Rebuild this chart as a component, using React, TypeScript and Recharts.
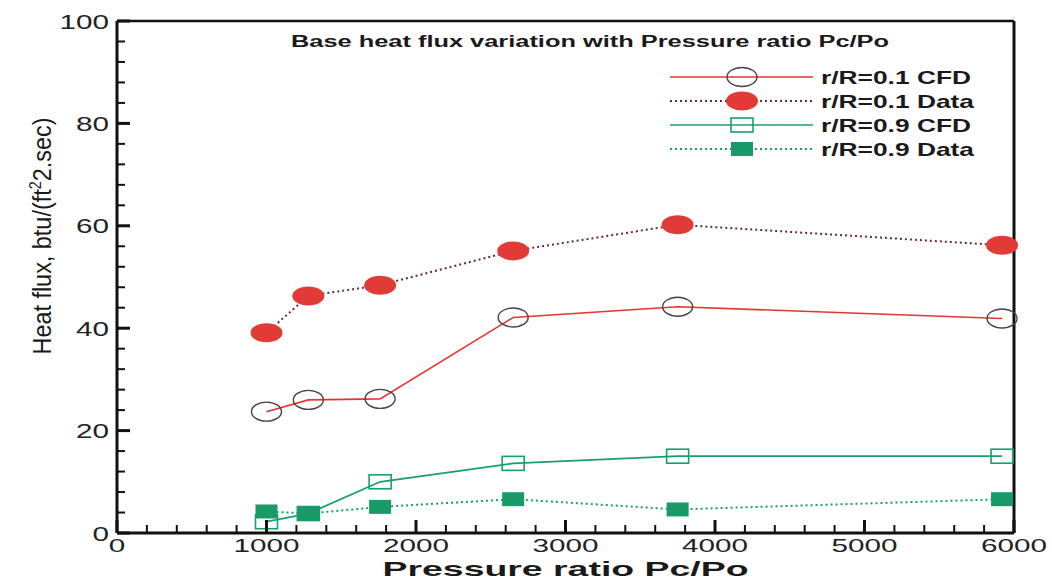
import React from 'react';
import { LineChart, Line, XAxis, YAxis, Legend, ReferenceLine, Customized } from 'recharts';

// values
const pressureRatio = [1000, 1280, 1760, 2650, 3750, 5920];
const cfd01 = [23.7, 26.0, 26.2, 42.1, 44.2, 41.9];
const data01 = [39.1, 46.3, 48.4, 55.1, 60.2, 56.2];
const cfd09 = [2.2, 3.8, 10.0, 13.6, 15.0, 15.0];
const data09 = [4.2, 3.8, 5.1, 6.6, 4.6, 6.6];

const xTicks = [0, 200, 400, 600, 800, 1000, 1200, 1400, 1600, 1800, 2000, 2200, 2400, 2600, 2800, 3000,
  3200, 3400, 3600, 3800, 4000, 4200, 4400, 4600, 4800, 5000, 5200, 5400, 5600, 5800, 6000];
const yTicks = [0, 4, 8, 12, 16, 20, 24, 28, 32, 36, 40, 44, 48, 52, 56, 60, 64, 68, 72, 76, 80, 84, 88, 92, 96, 100];

const rows = pressureRatio.map((x, i) => ({
  x,
  cfd01: cfd01[i],
  data01: data01[i],
  cfd09: cfd09[i],
  data09: data09[i],
}));

const RED = '#e4352f';
const RED_FILL = '#e23a36';
const RED_DOTS = '#6a2c2c';
const RING = '#4a4050';
const GREEN = '#17a06b';
const GREEN_FILL = '#189b68';
const AXIS = '#111';
const FONT = '"Liberation Sans", Arial, Helvetica, sans-serif';

const openCircle = (p: any) => (
  <ellipse key={`oc${p.index}`} cx={p.cx} cy={p.cy} rx={15} ry={9.5} fill="none" stroke={RING} strokeWidth={1.4} />
);
const fullCircle = (p: any) => (
  <ellipse key={`fc${p.index}`} cx={p.cx} cy={p.cy} rx={16} ry={9.5} fill={RED_FILL} stroke="none" />
);
const openSquare = (p: any) => (
  <rect key={`os${p.index}`} x={p.cx - 11} y={p.cy - 7} width={22} height={14} fill="none" stroke={GREEN} strokeWidth={1.6} />
);
const fullSquare = (p: any) => (
  <rect key={`fs${p.index}`} x={p.cx - 11} y={p.cy - 7} width={22} height={14} fill={GREEN_FILL} stroke="none" />
);

const legendItems = [
  { name: 'r/R=0.1 CFD', stroke: RED, dash: undefined, marker: 'oc' },
  { name: 'r/R=0.1 Data', stroke: RED_DOTS, dash: '2 3', marker: 'fc' },
  { name: 'r/R=0.9 CFD', stroke: GREEN, dash: undefined, marker: 'os' },
  { name: 'r/R=0.9 Data', stroke: GREEN, dash: '2 3', marker: 'fs' },
];

const markerFor = (kind: string, cx: number, cy: number) => {
  const p = { cx, cy, index: kind };
  if (kind === 'oc') return openCircle(p);
  if (kind === 'fc') return fullCircle(p);
  if (kind === 'os') return openSquare(p);
  return fullSquare(p);
};

const renderLegend = () => (
  <svg width={340} height={110} style={{ display: 'block' }}>
    {legendItems.map((it, i) => {
      const y = 17 + i * 24;
      return (
        <g key={it.name}>
          <line x1={10} x2={153} y1={y} y2={y} stroke={it.stroke} strokeWidth={it.dash ? 2 : 1.6} strokeDasharray={it.dash} />
          {markerFor(it.marker, 82, y)}
          <text x={161} y={y + 7} fontFamily={FONT} fontWeight="bold" fontSize={19} fill="#1a1a1a"
            textLength={i % 2 === 0 ? 150 : 153} lengthAdjust="spacingAndGlyphs">{it.name}</text>
        </g>
      );
    })}
  </svg>
);

const XTick = (props: any) => {
  const { x, y, payload } = props;
  const v = payload.value;
  const major = v % 1000 === 0;
  const label = String(v);
  return (
    <g>
      <line x1={x} x2={x} y1={y} y2={y - (major ? 13 : 8)} stroke={AXIS} strokeWidth={major ? 3 : 2} />
      {major && (
        <text x={x} y={y + 19} textAnchor="middle" fontFamily={FONT} fontSize={19} fill="#222"
          textLength={16.5 * label.length} lengthAdjust="spacingAndGlyphs">{label}</text>
      )}
    </g>
  );
};

const YTick = (props: any) => {
  const { x, y, payload } = props;
  const v = payload.value;
  const major = v % 20 === 0;
  const label = String(v);
  return (
    <g>
      <line x1={x} x2={x + (major ? 13 : 8)} y1={y} y2={y} stroke={AXIS} strokeWidth={major ? 3 : 2} />
      {major && (
        <text x={x - 8} y={y + 7.5} textAnchor="end" fontFamily={FONT} fontSize={21} fill="#222"
          textLength={16.5 * label.length} lengthAdjust="spacingAndGlyphs">{label}</text>
      )}
    </g>
  );
};

const XTitle = (props: any) => {
  const { x, y, width } = props.viewBox;
  return (
    <text x={x + width / 2} y={y + 43} textAnchor="middle" fontFamily={FONT} fontWeight="bold" fontSize={21}
      fill="#1a1a1a" textLength={366} lengthAdjust="spacingAndGlyphs">Pressure ratio Pc/Po</text>
  );
};

const YTitle = (props: any) => {
  const { y, height } = props.viewBox;
  const cy = y + height * 0.42;
  return (
    <text transform={`translate(51, ${cy}) rotate(-90)`} textAnchor="middle" fontFamily={FONT} fontSize={26}
      fill="#1a1a1a" textLength={237} lengthAdjust="spacingAndGlyphs">
      <tspan>Heat flux, btu/(ft</tspan>
      <tspan dy={-10} fontSize={16}>2</tspan>
      <tspan dy={10}>2.sec)</tspan>
    </text>
  );
};

const Title = () => (
  <text x={590} y={47} textAnchor="middle" fontFamily={FONT} fontWeight="bold" fontSize={16} fill="#1a1a1a"
    textLength={598} lengthAdjust="spacingAndGlyphs">Base heat flux variation with Pressure ratio Pc/Po</text>
);

export default function App() {
  return (
    <div style={{ position: 'absolute', left: 0, top: 0, width: 1052, height: 582, background: '#fff' }}>
      <LineChart width={1052} height={582} data={rows} margin={{ top: 21, right: 38, bottom: 0, left: 0 }}>
        <XAxis dataKey="x" type="number" domain={[0, 6000]} ticks={xTicks} interval={0} height={49}
          tickSize={0} tickMargin={0} tickLine={false} tick={<XTick />}
          axisLine={{ stroke: AXIS, strokeWidth: 3 }} label={<XTitle />} />
        <YAxis type="number" domain={[0, 100]} ticks={yTicks} interval={0} width={117}
          tickSize={0} tickMargin={0} tickLine={false} tick={<YTick />}
          axisLine={{ stroke: AXIS, strokeWidth: 3 }} label={<YTitle />} />
        <ReferenceLine y={100} stroke={AXIS} strokeWidth={2.5} />
        <ReferenceLine x={6000} stroke={AXIS} strokeWidth={3} />
        <Line dataKey="cfd01" name="r/R=0.1 CFD" stroke={RED} strokeWidth={1.6} dot={openCircle}
          isAnimationActive={false} />
        <Line dataKey="data01" name="r/R=0.1 Data" stroke={RED_DOTS} strokeWidth={2} strokeDasharray="2 3"
          dot={fullCircle} isAnimationActive={false} />
        <Line dataKey="cfd09" name="r/R=0.9 CFD" stroke={GREEN} strokeWidth={1.8} dot={openSquare}
          isAnimationActive={false} />
        <Line dataKey="data09" name="r/R=0.9 Data" stroke={GREEN} strokeWidth={2} strokeDasharray="2 3"
          dot={fullSquare} isAnimationActive={false} />
        <Legend layout="vertical" align="center" verticalAlign="middle" content={renderLegend}
          wrapperStyle={{ position: 'absolute', left: 660, top: 60, width: 340, height: 110 }} />
        <Customized component={<Title />} />
      </LineChart>
    </div>
  );
}
